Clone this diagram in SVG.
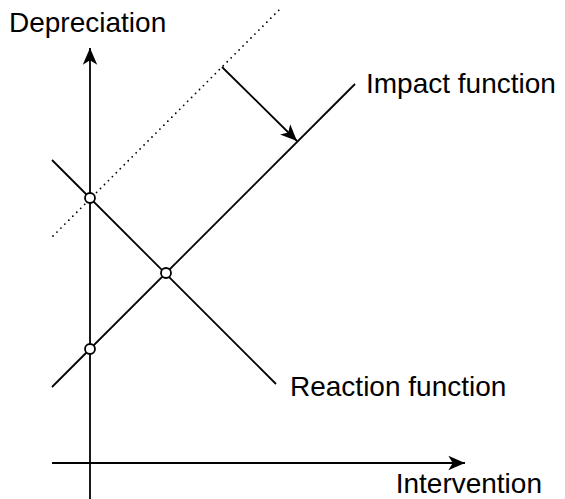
<svg xmlns="http://www.w3.org/2000/svg" width="565" height="499" viewBox="0 0 565 499">
<style>
.ln{stroke:#000;stroke-width:1.8;fill:none}
.dot{stroke:#000;stroke-width:1.8;fill:none;stroke-dasharray:0 5.6;stroke-linecap:round}
.pt{fill:#fff;stroke:#000;stroke-width:1.8}
.lbl{font-family:"Liberation Sans",Arial,sans-serif;font-size:28px;fill:#000}
</style>
<defs>
<marker id="ah" markerUnits="userSpaceOnUse" markerWidth="20" markerHeight="20" viewBox="-16 -8 18 16" refX="0" refY="0" orient="auto" overflow="visible">
<path d="M0,0 L-15,-6.5 L-11,0 L-15,6.5 Z" fill="#000"/>
</marker>
</defs>
<g id="connectors">
<line id="x-axis" class="ln" x1="52" y1="463" x2="465" y2="463" marker-end="url(#ah)"/>
<line id="y-axis" class="ln" x1="90" y1="499" x2="90" y2="48" marker-end="url(#ah)"/>
<line id="impact" class="ln" x1="52" y1="387" x2="355" y2="84"/>
<line id="reaction" class="ln" x1="52" y1="160" x2="276" y2="384"/>
<line id="shifted" class="dot" x1="53" y1="236" x2="279" y2="10"/>
<line id="shift-arrow" class="ln" x1="222" y1="67" x2="297" y2="141" marker-end="url(#ah)"/>
</g>
<g id="p1"><circle class="pt" cx="90" cy="198" r="5"/></g>
<g id="p2"><circle class="pt" cx="166" cy="273" r="5"/></g>
<g id="p3"><circle class="pt" cx="90" cy="349" r="5"/></g>
<g id="lbl-depreciation"><text class="lbl" x="9" y="31.5">Depreciation</text></g>
<g id="lbl-impact"><text class="lbl" x="366" y="93">Impact function</text></g>
<g id="lbl-reaction"><text class="lbl" x="290" y="396">Reaction function</text></g>
<g id="lbl-intervention"><text class="lbl" x="542" y="493" text-anchor="end">Intervention</text></g>
</svg>
